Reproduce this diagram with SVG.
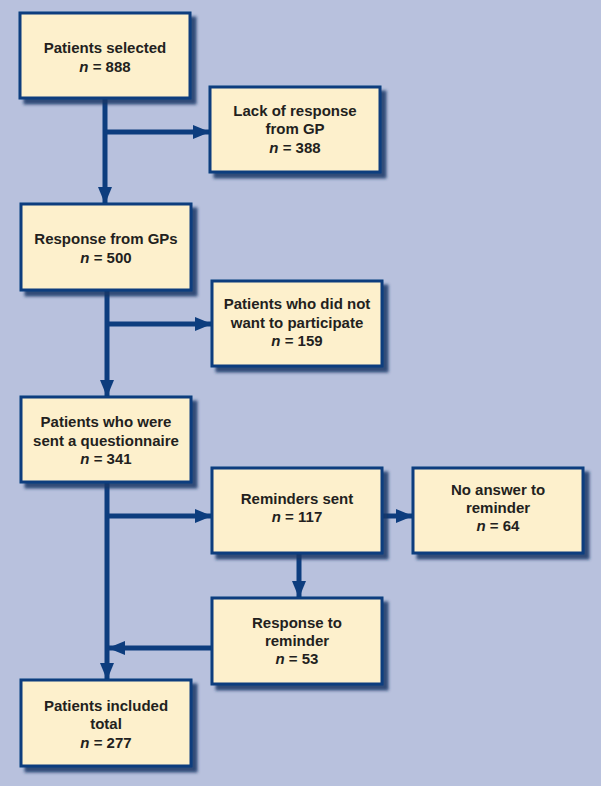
<svg xmlns="http://www.w3.org/2000/svg" width="601" height="786" viewBox="0 0 601 786">
<style>
.box{fill:#fdf0cc;stroke:#0d3d7e;stroke-width:3;filter:url(#sh)}
.t{font-family:"Liberation Sans",Arial,sans-serif;font-size:15px;font-weight:bold;fill:#231f20;text-anchor:middle}
.i{font-style:italic}
.c{stroke:#0d3d7e;stroke-width:5;fill:none}
</style>
<defs>
<filter id="sh" x="-10%" y="-10%" width="130%" height="130%">
<feDropShadow dx="5" dy="5" stdDeviation="1.5" flood-color="#163466" flood-opacity="0.85"/>
</filter>
<marker id="ah" markerUnits="userSpaceOnUse" markerWidth="18" markerHeight="14" refX="17" refY="7" orient="auto">
<path d="M0,0 L17,7 L0,14 Z" fill="#0d3d7e"/>
</marker>
</defs>
<rect width="601" height="786" fill="#b8c1dd"/>
<g id="connectors">
<line class="c" x1="105" y1="98" x2="105" y2="204" marker-end="url(#ah)"/>
<line class="c" x1="105" y1="132" x2="210" y2="132" marker-end="url(#ah)"/>
<line class="c" x1="107" y1="290" x2="107" y2="397" marker-end="url(#ah)"/>
<line class="c" x1="107" y1="324" x2="212" y2="324" marker-end="url(#ah)"/>
<line class="c" x1="107" y1="482" x2="107" y2="680" marker-end="url(#ah)"/>
<line class="c" x1="107" y1="516" x2="212" y2="516" marker-end="url(#ah)"/>
<line class="c" x1="382" y1="516" x2="413" y2="516" marker-end="url(#ah)"/>
<line class="c" x1="299" y1="553" x2="299" y2="598" marker-end="url(#ah)"/>
<line class="c" x1="212" y1="648" x2="108" y2="648" marker-end="url(#ah)"/>
</g>
<g id="n1"><rect class="box" x="20" y="13" width="170" height="85"/>
<text class="t" x="105" y="53">Patients selected</text>
<text class="t" x="105" y="72"><tspan class="i">n</tspan> = 888</text></g>
<g id="n2"><rect class="box" x="210" y="87" width="170" height="85"/>
<text class="t" x="295" y="116">Lack of response</text>
<text class="t" x="295" y="134">from GP</text>
<text class="t" x="295" y="153"><tspan class="i">n</tspan> = 388</text></g>
<g id="n3"><rect class="box" x="21" y="204" width="170" height="86"/>
<text class="t" x="106" y="244">Response from GPs</text>
<text class="t" x="106" y="263"><tspan class="i">n</tspan> = 500</text></g>
<g id="n4"><rect class="box" x="212" y="281" width="170" height="85"/>
<text class="t" x="297" y="309">Patients who did not</text>
<text class="t" x="297" y="328">want to participate</text>
<text class="t" x="297" y="346"><tspan class="i">n</tspan> = 159</text></g>
<g id="n5"><rect class="box" x="21" y="397" width="170" height="85"/>
<text class="t" x="106" y="427">Patients who were</text>
<text class="t" x="106" y="446">sent a questionnaire</text>
<text class="t" x="106" y="464"><tspan class="i">n</tspan> = 341</text></g>
<g id="n6"><rect class="box" x="212" y="468" width="170" height="85"/>
<text class="t" x="297" y="504">Reminders sent</text>
<text class="t" x="297" y="522"><tspan class="i">n</tspan> = 117</text></g>
<g id="n7"><rect class="box" x="413" y="468" width="170" height="85"/>
<text class="t" x="498" y="495">No answer to</text>
<text class="t" x="498" y="513">reminder</text>
<text class="t" x="498" y="531"><tspan class="i">n</tspan> = 64</text></g>
<g id="n8"><rect class="box" x="212" y="598" width="170" height="86"/>
<text class="t" x="297" y="628">Response to</text>
<text class="t" x="297" y="646">reminder</text>
<text class="t" x="297" y="664"><tspan class="i">n</tspan> = 53</text></g>
<g id="n9"><rect class="box" x="21" y="680" width="170" height="86"/>
<text class="t" x="106" y="711">Patients included</text>
<text class="t" x="106" y="729">total</text>
<text class="t" x="106" y="748"><tspan class="i">n</tspan> = 277</text></g>
</svg>
